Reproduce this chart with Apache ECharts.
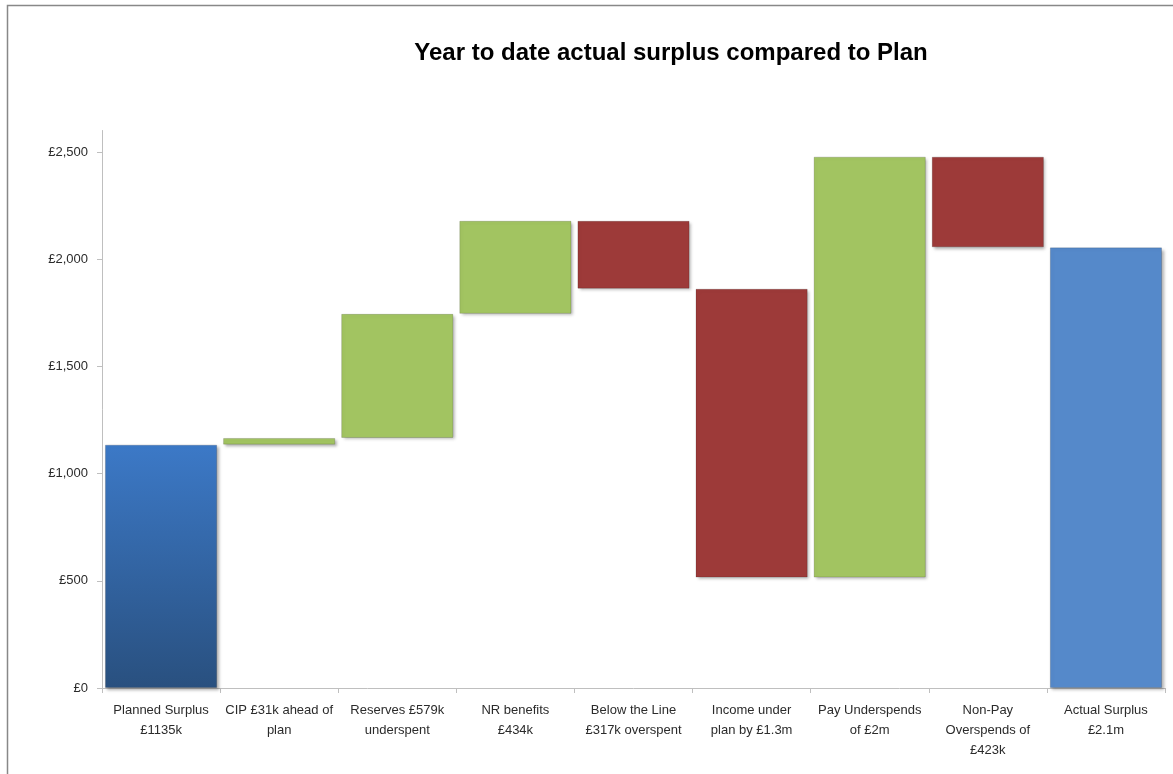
<!DOCTYPE html>
<html>
<head>
<meta charset="utf-8">
<script src="https://cdn.jsdelivr.net/npm/echarts@6/dist/echarts.min.js"></script>
<style>
html,body{margin:0;padding:0;background:#fff;}
#c{width:1173px;height:774px;}
</style>
</head>
<body>
<div id="c"></div>
<script>
var categories = [
  'Planned Surplus\n£1135k',
  'CIP £31k ahead of\nplan',
  'Reserves £579k\nunderspent',
  'NR benefits\n£434k',
  'Below the Line\n£317k overspent',
  'Income under\nplan by £1.3m',
  'Pay Underspends\nof £2m',
  'Non-Pay\nOverspends of\n£423k',
  'Actual Surplus\n£2.1m'
];
var plannedSurplus = 1135;
var changes = [31, 579, 434, -317, -1347, 1963, -423];
var actualSurplus = 2055;
var yTicks = [0, 500, 1000, 1500, 2000, 2500];

var GREEN = '#a2c461', RED = '#9d3a39';
var base = [], vis = [];
base.push(0);
vis.push({value: plannedSurplus, itemStyle: {color: {type:'linear',x:0,y:0,x2:0,y2:1,colorStops:[{offset:0,color:'#3c79c7'},{offset:1,color:'#29507f'}]}}});
var run = plannedSurplus;
changes.forEach(function(d){
  var next = run + d;
  base.push(Math.min(run, next));
  vis.push({value: Math.abs(d), itemStyle: {color: d >= 0 ? GREEN : RED}});
  run = next;
});
base.push(0);
vis.push({value: actualSurplus, itemStyle: {color: '#5589ca'}});

var chart = echarts.init(document.getElementById('c'));
chart.setOption({
  animation: false,
  backgroundColor: '#fff',
  title: {
    text: 'Year to date actual surplus compared to Plan',
    left: 666, top: 36, textAlign: 'center',
    textStyle: {fontFamily: 'Liberation Sans', fontWeight: 'bold', fontSize: 24, color: '#000'}
  },
  graphic: [{
    type: 'rect', shape: {x: 7.5, y: 5.5, width: 1200, height: 800},
    style: {fill: 'none', stroke: '#888', lineWidth: 1.5}, silent: true
  }],
  grid: {left: 102, right: 8, top: 130.5, bottom: 86},
  xAxis: {
    type: 'category', data: categories,
    axisLine: {lineStyle: {color: '#bfbfbf'}},
    axisTick: {show: true, alignWithLabel: false, length: 5, lineStyle: {color: '#bfbfbf'}},
    axisLabel: {interval: 0, margin: 12, lineHeight: 20, fontSize: 13, fontFamily: 'Liberation Sans', color: '#2b2b2b'}
  },
  yAxis: {
    type: 'value', min: 0, max: 2600, interval: 500,
    splitLine: {show: false},
    axisLine: {show: true, lineStyle: {color: '#bfbfbf'}},
    axisTick: {show: true, length: 5, lineStyle: {color: '#bfbfbf'}},
    axisLabel: {
      showMaxLabel: false, margin: 14, fontSize: 13, fontFamily: 'Liberation Sans', color: '#2b2b2b',
      formatter: function(v){ return yTicks.indexOf(v) >= 0 ? '£' + v.toLocaleString('en-GB') : ''; }
    }
  },
  series: [
    {type: 'bar', stack: 'w', data: base, barCategoryGap: '5%', itemStyle: {color: 'transparent'}, silent: true},
    {type: 'bar', stack: 'w', data: vis, barCategoryGap: '5%',
     itemStyle: {shadowBlur: 3, shadowOffsetX: 2, shadowOffsetY: 2, shadowColor: 'rgba(0,0,0,0.3)', borderColor: 'rgba(0,0,0,0.15)', borderWidth: 1}}
  ]
});
</script>
</body>
</html>
